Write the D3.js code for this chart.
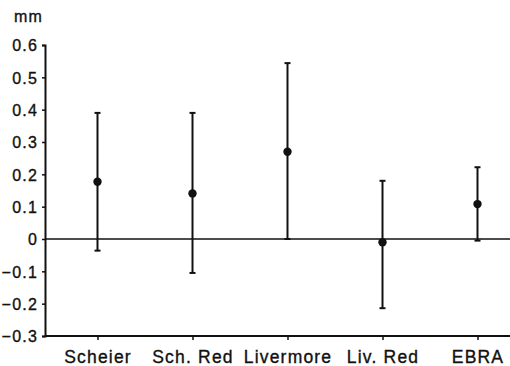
<!DOCTYPE html>
<html>
<head>
<meta charset="utf-8">
<script src="https://cdn.jsdelivr.net/npm/d3@7"></script>
<style>
  body { margin: 0; background: #fff; }
  text { font-family: 'Liberation Sans', Arial, sans-serif; font-size: 16px; fill: #111; stroke: #111; stroke-width: 0.35px; letter-spacing: 1.2px; }
  .x-axis text { font-size: 17.5px; }
</style>
</head>
<body>
<div id="wrapper"></div>
<script>
// Data
const methods = ['Scheier', 'Sch. Red', 'Livermore', 'Liv. Red', 'EBRA']
const means = [0.177, 0.141, 0.270, -0.010, 0.108]
const upper = [0.390, 0.390, 0.544, 0.180, 0.222]
const lower = [-0.036, -0.105, 0.000, -0.214, -0.005]
const yTicks = [0.6, 0.5, 0.4, 0.3, 0.2, 0.1, 0, -0.1, -0.2, -0.3]

function drawChart() {
  const dataset = methods.map((m, i) => ({ method: m, mean: means[i], hi: upper[i], lo: lower[i] }))

  let dimensions = {
    width: 510,
    height: 366,
    margin: { top: 45, right: 0, bottom: 30, left: 45 },
  }
  dimensions.boundedWidth = dimensions.width - dimensions.margin.left - dimensions.margin.right
  dimensions.boundedHeight = dimensions.height - dimensions.margin.top - dimensions.margin.bottom

  const wrapper = d3.select('#wrapper')
    .append('svg')
    .attr('width', dimensions.width)
    .attr('height', dimensions.height)

  const bounds = wrapper.append('g')
    .attr('transform', `translate(${dimensions.margin.left},${dimensions.margin.top})`)

  // Scales
  const yScale = d3.scaleLinear()
    .domain([-0.3, 0.6])
    .range([dimensions.boundedHeight, 0])

  const xScale = d3.scalePoint()
    .domain(methods)
    .range([52.5, 432.5])

  // Axes
  const yAxis = bounds.append('g')
    .call(d3.axisLeft(yScale).tickValues(yTicks).tickSize(3).tickPadding(4)
      .tickFormat(d => d === 0 ? '0' : d3.format('.1f')(d)))
  yAxis.select('.domain').attr('stroke', '#111').attr('stroke-width', 2)
  yAxis.selectAll('.tick line').attr('stroke', '#111').attr('stroke-width', 1.5)
  yAxis.selectAll('text').attr('font-size', null).attr('font-family', null).attr('dy', '0.36em')

  const xAxis = bounds.append('g')
    .attr('class', 'x-axis')
    .attr('transform', `translate(0,${dimensions.boundedHeight})`)
    .call(d3.axisBottom(xScale).tickSize(4).tickPadding(11))
  xAxis.select('.domain').attr('d', `M0,0H${dimensions.boundedWidth}`)
    .attr('stroke', '#111').attr('stroke-width', 2)
  xAxis.selectAll('.tick line').attr('stroke', '#111').attr('stroke-width', 1.5)
  xAxis.selectAll('text').attr('font-size', null).attr('font-family', null)

  // Zero reference line
  bounds.append('line')
    .attr('x1', 0).attr('x2', dimensions.boundedWidth)
    .attr('y1', yScale(0)).attr('y2', yScale(0))
    .attr('stroke', '#111').attr('stroke-width', 1.5)

  // Unit label
  wrapper.append('text')
    .attr('x', 14).attr('y', 22)
    .text('mm')

  // Error bars
  const bars = bounds.selectAll('.bar')
    .data(dataset)
    .enter().append('g')
    .attr('class', 'bar')
    .attr('transform', d => `translate(${xScale(d.method)},0)`)

  bars.append('line')
    .attr('y1', d => yScale(d.hi)).attr('y2', d => yScale(d.lo))
    .attr('stroke', '#111').attr('stroke-width', 2)

  const capWidth = 6
  bars.append('line')
    .attr('x1', -capWidth / 2).attr('x2', capWidth / 2)
    .attr('y1', d => yScale(d.hi)).attr('y2', d => yScale(d.hi))
    .attr('stroke', '#111').attr('stroke-width', 2)
  bars.append('line')
    .attr('x1', -capWidth / 2).attr('x2', capWidth / 2)
    .attr('y1', d => yScale(d.lo)).attr('y2', d => yScale(d.lo))
    .attr('stroke', '#111').attr('stroke-width', 2)

  bars.append('circle')
    .attr('cy', d => yScale(d.mean))
    .attr('r', 4.2)
    .attr('fill', '#111')
}
drawChart()
</script>
</body>
</html>
